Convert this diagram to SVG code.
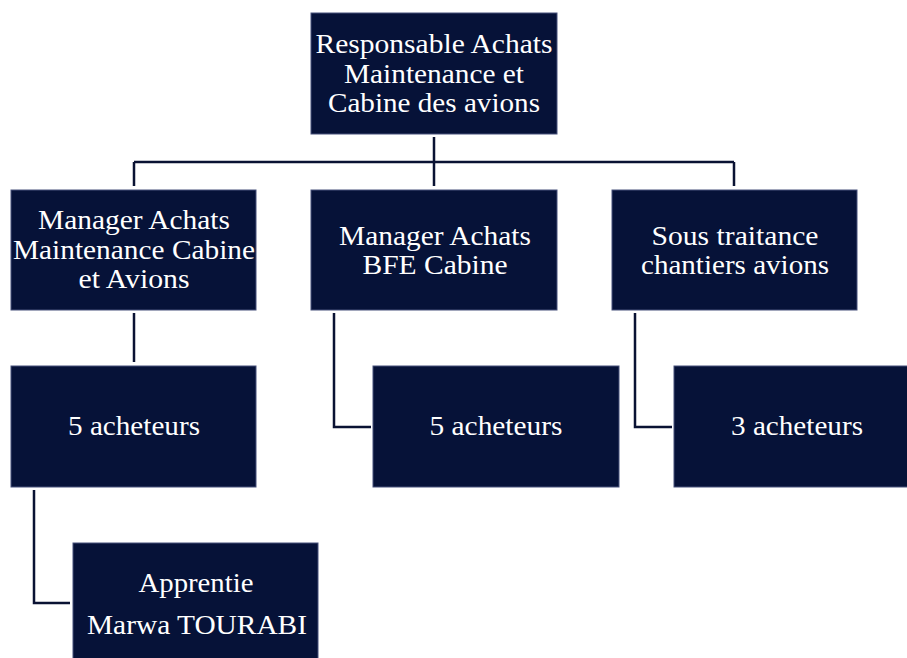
<svg xmlns="http://www.w3.org/2000/svg" width="907" height="658" viewBox="0 0 907 658">
<style>
.box{fill:#061238;stroke:#46507a;stroke-width:1}
.t{font-family:"Liberation Serif","Times New Roman",serif;font-size:28px;fill:#ffffff;text-anchor:middle}
.c{fill:none;stroke:#0a1233;stroke-width:2.5}
</style>
<rect width="907" height="658" fill="#ffffff"/>
<g id="connectors">
<path class="c" d="M434 137V186M134 162H734M134 162V186M734 162V186"/>
<path class="c" d="M134 313V362"/>
<path class="c" d="M334 313V427H371"/>
<path class="c" d="M635 313V427H672"/>
<path class="c" d="M34 490V603H70"/>
</g>
<g id="n0">
<rect class="box" x="311" y="13" width="246" height="121"/>
<text class="t" x="434" y="53" textLength="237" lengthAdjust="spacingAndGlyphs">Responsable Achats</text>
<text class="t" x="434" y="83" textLength="180" lengthAdjust="spacingAndGlyphs">Maintenance et</text>
<text class="t" x="434" y="112" textLength="212" lengthAdjust="spacingAndGlyphs">Cabine des avions</text>
</g>
<g id="n1">
<rect class="box" x="11" y="190" width="245" height="120"/>
<text class="t" x="134" y="229" textLength="192" lengthAdjust="spacingAndGlyphs">Manager Achats</text>
<text class="t" x="134" y="259" textLength="242" lengthAdjust="spacingAndGlyphs">Maintenance Cabine</text>
<text class="t" x="134" y="288" textLength="111" lengthAdjust="spacingAndGlyphs">et Avions</text>
</g>
<g id="n2">
<rect class="box" x="311" y="190" width="246" height="120"/>
<text class="t" x="435" y="245" textLength="192" lengthAdjust="spacingAndGlyphs">Manager Achats</text>
<text class="t" x="435" y="274" textLength="145" lengthAdjust="spacingAndGlyphs">BFE Cabine</text>
</g>
<g id="n3">
<rect class="box" x="612" y="190" width="245" height="120"/>
<text class="t" x="735" y="245" textLength="167" lengthAdjust="spacingAndGlyphs">Sous traitance</text>
<text class="t" x="735" y="274" textLength="188" lengthAdjust="spacingAndGlyphs">chantiers avions</text>
</g>
<g id="n4">
<rect class="box" x="11" y="366" width="245" height="121"/>
<text class="t" x="134" y="435" textLength="132" lengthAdjust="spacingAndGlyphs">5 acheteurs</text>
</g>
<g id="n5">
<rect class="box" x="373" y="366" width="246" height="121"/>
<text class="t" x="496" y="435" textLength="133" lengthAdjust="spacingAndGlyphs">5 acheteurs</text>
</g>
<g id="n6">
<rect class="box" x="674" y="366" width="245" height="121"/>
<text class="t" x="797" y="435" textLength="132" lengthAdjust="spacingAndGlyphs">3 acheteurs</text>
</g>
<g id="n7">
<rect class="box" x="73" y="543" width="245" height="121"/>
<text class="t" x="196" y="592" textLength="115" lengthAdjust="spacingAndGlyphs">Apprentie</text>
<text class="t" x="197" y="634" textLength="220" lengthAdjust="spacingAndGlyphs">Marwa TOURABI</text>
</g>
</svg>
